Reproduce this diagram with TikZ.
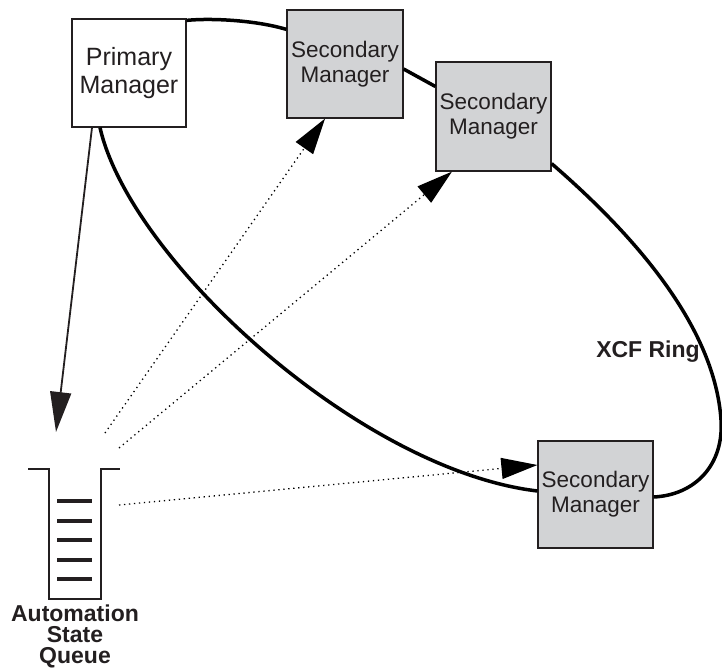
\documentclass[tikz,border=0pt]{standalone}
\usepackage{fontspec}
\setmainfont{Liberation Sans}
\usetikzlibrary{arrows.meta, positioning, calc}
\definecolor{inkgray}{RGB}{35,31,32}
\definecolor{boxgray}{RGB}{210,211,213}

\begin{document}
\begin{tikzpicture}[x=1pt,y=-1pt,
    mgr/.style={rectangle,draw=inkgray,line width=1.2pt,inner sep=0pt,align=center,text=inkgray},
    ring/.style={line width=3.5pt,black},
    sync/.style={line width=1.3pt,dash pattern=on 1.3pt off 3.7pt,-{Triangle[length=36pt,width=21pt]}}]
    \useasboundingbox (0,0) rectangle (722,668);
    					\node[mgr,fill=white,minimum width=114pt,minimum height=108pt,font=\fontsize{25}{28}\selectfont] (prim) at (129,73) {Primary\\Manager};
    					\node[mgr,fill=boxgray,minimum width=116pt,minimum height=108pt,font=\fontsize{22.5}{25}\selectfont] (sec1) at (345,64) {Secondary\\Manager};
    					\node[mgr,fill=boxgray,minimum width=115pt,minimum height=109pt,font=\fontsize{22.5}{25}\selectfont] (sec2) at (493.5,116.5) {Secondary\\Manager};
    					\node[mgr,fill=boxgray,minimum width=115pt,minimum height=107pt,font=\fontsize{22.5}{25}\selectfont] (sec3) at (595.5,494.5) {Secondary\\Manager};
    					\node[font=\bfseries\fontsize{23}{21}\selectfont,text=inkgray] (ring) at (648,352) {XCF Ring};
    					\node[font=\bfseries\fontsize{23}{21}\selectfont,text=inkgray,align=center] (qlabel) at (75,636) {Automation\\State\\Queue};
    					% the queue
    					\draw[inkgray,line width=1.3pt] (28,469) -- (49,469) -- (49,599) -- (101,599) -- (101,469) -- (120,469);
    					\foreach \y in {501,520.5,540,559.5,579}
    						\draw[inkgray,line width=4pt] (57,\y) -- (92,\y);
    					\coordinate (qin) at (56,432);
    					\coordinate (qa) at (105,433);
    					\coordinate (qb) at (119,448);
    					\coordinate (qc) at (119,505);
    					% ring
    					\draw[ring] ([yshift=-2pt]prim.north east) .. controls (210,18) and (255,20) .. ([yshift=-20pt]sec1.north west);
    					\draw[ring] ([yshift=-5pt]sec1.east) -- ([yshift=30pt]sec2.west);
    					\draw[ring] ([yshift=8pt]sec2.south east) .. controls (640,240) and (715,330) .. (721,420) .. controls (724,465) and (695,495) .. ([yshift=-2.5pt]sec3.east);
    					\draw[ring] ([xshift=-29pt]prim.south) .. controls (130,260) and (360,470) .. ([yshift=3.5pt]sec3.west);
    					% arrows
    					\draw[inkgray,line width=1.8pt,-{Triangle[length=40pt,width=21pt]}] ([xshift=-37pt]prim.south) -- (qin);
    					\draw[sync] (qa) -- ([xshift=-20pt]sec1.south);
    					\draw[sync] (qb) -- ([xshift=-41.5pt]sec2.south);
    					\draw[sync] (qc) -- ([yshift=29.5pt]sec3.west);
    				\end{tikzpicture}
\end{document}
